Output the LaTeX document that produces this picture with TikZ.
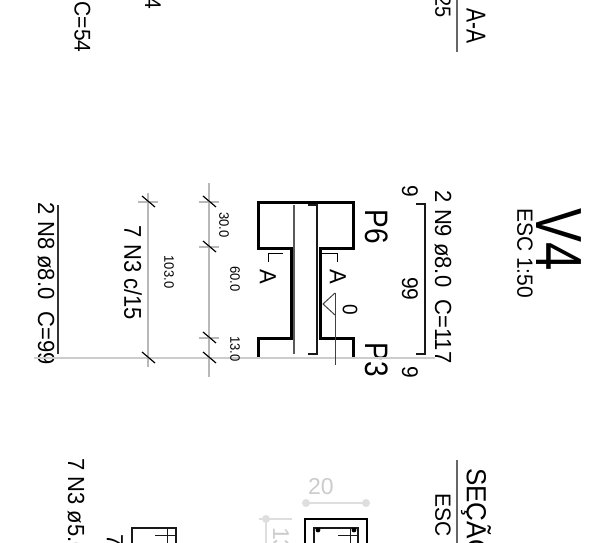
\documentclass[tikz,border=0pt]{standalone}
\usepackage{fontspec}
\usepackage{graphicx}
\setmainfont{Liberation Sans}
\tikzset{
  lbl/.style={rotate=-90,inner sep=0pt,text=black,anchor=center},
  beam/.style={line width=3pt,black},
  bar/.style={line width=1.4pt,black!90},
  thinbar/.style={line width=1.2pt,black!65},
  dimline/.style={line width=1.6pt,black!28},
  baseln/.style={line width=1.1pt,black!20},
  tick/.style={line width=1pt,black},
  slash/.style={line width=1.2pt,black},
  faint/.style={line width=1.4pt,black!13},
}
\newcommand{\fs}[3]{\scalebox{1}[#1]{\fontsize{#2}{#2}\selectfont #3}}
\begin{document}
\begin{tikzpicture}[x=1pt,y=-1pt]
\useasboundingbox (0,0) rectangle (608,543);
\clip (0,0) rectangle (608,543);
% top clipped
\node[lbl] (tc) at (82.5,27) {\fs{1.08}{21}{C=54}};
\node[lbl,anchor=east] (tf) at (153,9) {\fs{1.08}{21}{4}};
\node[lbl,anchor=east] (ta) at (476,44) {\fs{1.3}{21}{A-A}};
\node[lbl,anchor=east] (tb) at (443,18) {\fs{1.1}{20}{25}};
\draw[line width=1.3pt,black!60] (457,-2) -- (457,52);
% title
\node[lbl] (v4) at (559,240) {\fs{1.28}{51}{V4}};
\node[lbl] (esc) at (525,253) {\fs{1.05}{21}{ESC 1:50}};
\node[lbl] (n9) at (443,277) {\fs{1.06}{22}{2 N9 ø8.0\ \ C=117}};
\node[lbl] (n8) at (46,284) {\fs{1.06}{22}{2 N8 ø8.0\ \ C=99}};
\node[lbl] (n3) at (133,273) {\fs{1.1}{22}{7 N3 c/15}};
\node[lbl] (p6) at (377,227) {\fs{1.16}{28}{P6}};
\node[lbl] (p3) at (377,360) {\fs{1.16}{28}{P3}};
\node[lbl] (d9a) at (410,191) {\fs{1.08}{21}{9}};
\node[lbl] (d99) at (410,289) {\fs{1.08}{21}{99}};
\node[lbl] (d9b) at (410,372) {\fs{1.08}{21}{9}};
% baseline
\draw[baseln] (34,358) -- (435,358);
% bracket and bars
\draw[bar] (416,204) -- (425,204) -- (425,354) -- (416,354);
\draw[line width=1.6pt,black!80] (58,205) -- (58,354);
% beam outline
\draw[beam] (258,357) -- (258,338) -- (291,338) -- (291,248) -- (258,248) -- (258,202) -- (353,202) -- (353,248) -- (320,248) -- (320,338) -- (353,338) -- (353,357);
\draw[thinbar] (294,205) -- (294,354);
\draw[bar,line width=1.6pt] (308,205) -- (317,205) -- (317,354) -- (308,354);
% section marks
\draw[tick] (322,253) -- (337,253) -- (337,262);
\draw[tick] (283,253) -- (268,253) -- (268,262);
\node[lbl] (al) at (268,277) {\fs{1.06}{22}{A}};
\node[lbl] (ar) at (338,277) {\fs{1.06}{22}{A}};
% level
\draw[tick,black!75] (335,293) -- (335,365);
\draw[tick,black!75] (335,293) -- (323,304) -- (335,315);
\node[lbl] (z) at (350,310) {\fs{1.1}{19}{0}};
% dims
\draw[dimline] (209,183) -- (209,377);
\draw[dimline] (148,193) -- (148,367);
\foreach \x/\y in {209/202,209/247,209/338,148/202}{
  \draw[dimline] (\x-10,\y) -- (\x+10,\y);
}
\foreach \x/\y in {209/202,209/247,209/338,148/202,209/358,148/358}{
  \draw[slash] (\x-6,\y-6) -- (\x+7,\y+5);
}
\node[lbl] (l30) at (224,225) {\fs{1.05}{13}{30.0}};
\node[lbl] (l60) at (235,279) {\fs{1.05}{13}{60.0}};
\node[lbl] (l13) at (235,349) {\fs{1.05}{13}{13.0}};
\node[lbl] (l103) at (169,272) {\fs{1.05}{13}{103.0}};
% bottom
\node[lbl,anchor=west] (b1) at (76,458) {\fs{1.06}{22}{7 N3 ø5.0}};
\node[lbl,anchor=west] (b2) at (115,534) {\fs{1.06}{22}{7}};
\node[lbl,anchor=west] (s1) at (476,468) {\fs{1.06}{26}{SEÇÃO}};
\node[lbl,anchor=west] (s2) at (443,493) {\fs{1.05}{21}{ESC}};
\draw[line width=1.3pt,black!60] (457,460) -- (457,545);
\draw[line width=2.6pt,black] (305,545) |- (367,519) -- (367,545);
\draw[bar] (314,545) |- (358,528) -- (358,545);
\fill (318,530) circle (2.4);
\fill (354,530) circle (2.4);
\draw[bar,line width=1pt] (338,535) -- (358,535);
\draw[bar,line width=1pt] (350,528) -- (350,545);
\draw[faint] (305,503) -- (366,503);
\fill[black!13] (306,503) circle (4); \fill[black!13] (366,503) circle (4);
\node[inner sep=0pt,text=black!20] (d20) at (321,487) {\fontsize{23}{23}\selectfont 20};
\draw[faint] (259,519) -- (292,519);
\draw[faint] (266,519) -- (266,545);
\fill[black!13] (266,519) circle (4);
\node[lbl,text=black!20,anchor=west] (d13) at (281,527) {\fontsize{23}{23}\selectfont 13};
\draw[bar] (132,545) |- (176,528) -- (176,545);
\draw[bar,line width=1pt] (155,535) -- (176,535);
\draw[bar,line width=1pt] (167,528) -- (167,545);
\end{tikzpicture}
\end{document}
